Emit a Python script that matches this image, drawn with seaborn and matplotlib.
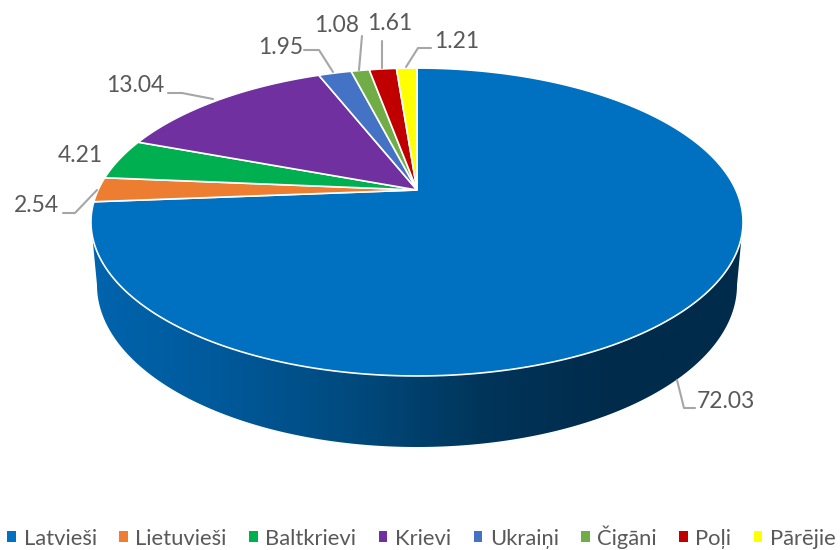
import numpy as np
import matplotlib
matplotlib.use("Agg")
import matplotlib.pyplot as plt
import seaborn as sns
from matplotlib.patches import Polygon, Patch

# data
groups = ['Latvieši', 'Lietuvieši', 'Baltkrievi', 'Krievi', 'Ukraiņi', 'Čigāni', 'Poļi', 'Pārējie']
shares = [72.03, 2.54, 4.21, 13.04, 1.95, 1.08, 1.61, 1.21]
colors = ['#0070c0', '#ed7d31', '#00b050', '#7030a0', '#4472c4', '#70ad47', '#c00000', '#ffff00']

# label layout: text centre, then leader line points from text to slice
label_pos = [(726, 401), (36, 206), (80, 156), (135, 86), (281, 48), (337, 25), (390, 24), (457, 42)]
leaders = [
    [(695, 408), (684, 408), (677, 380)],
    [(63, 213), (75, 213), (97, 190)],
    None,
    [(168, 93), (182, 93), (213, 99)],
    [(304, 50), (319, 50), (333, 72)],
    [(362, 36), (359, 70)],
    [(382, 41), (382, 68)],
    [(431, 48), (418, 48), (406, 67)],
]

sns.set_theme(style="white")
plt.rcParams['font.family'] = ['Lato', 'DejaVu Sans']

# perspective of the pie top, apex sits above the middle of the ellipse
apex_x, apex_y = 417, 190
persp = 0.208
rx, ry = 318.9, 147.3


def top_face(angle):
    # angle is clockwise from 12 o'clock, in radians
    w = 1 + persp * np.cos(angle)
    return apex_x + rx * np.sin(angle) / w, apex_y - ry * np.cos(angle) / w


fig = plt.figure(figsize=(8.4, 5.5), dpi=100)
ax = fig.add_axes([0, 0, 1, 1])
ax.set_xlim(0, 840)
ax.set_ylim(550, 0)
ax.axis('off')

# side wall, lower part of the top ellipse down to a slightly narrower one
t = np.linspace(0, np.pi, 200)
upper = np.column_stack([417 + 326 * np.cos(t), 222 + 154 * np.sin(t)])
lower = np.column_stack([417 + 320 * np.cos(t), 285 + 162 * np.sin(t)])
wall = Polygon(np.vstack([upper, lower[::-1]]), closed=True, fc='none', ec='none')
ax.add_patch(wall)
wall_cmap = sns.blend_palette(['#0064ad', '#00599a', '#004a7e', '#00355a', '#002b4b', '#002b4b'], as_cmap=True)
img = ax.imshow(np.linspace(0, 1, 256).reshape(1, -1), cmap=wall_cmap, extent=(91, 743, 450, 215),
                aspect='auto', zorder=1)
img.set_clip_path(wall)

# top face slices, clockwise from 12 o'clock
fractions = np.array(shares) / np.sum(shares)
edges = np.concatenate([[0], np.cumsum(fractions)]) * 2 * np.pi
for i in range(len(shares)):
    a = np.linspace(edges[i], edges[i + 1], 200)
    x, y = top_face(a)
    ax.fill(np.r_[apex_x, x], np.r_[apex_y, y], color=colors[i], ec='white', lw=1.2, zorder=2)

for i in range(len(shares)):
    ax.text(label_pos[i][0], label_pos[i][1], f'{shares[i]:.2f}', fontsize=16.5, color='#595959',
            ha='center', va='center', zorder=4)
    if leaders[i] is not None:
        px, py = zip(*leaders[i])
        ax.plot(px, py, color='#a6a6a6', lw=1.5, zorder=3)

handles = [Patch(fc=c, ec='none') for c in colors]
ax.legend(handles, groups, ncol=8, loc='center', bbox_to_anchor=(0.502, (550 - 537) / 550),
          frameon=False, fontsize=15.8, labelcolor='#595959', handlelength=0.38, handleheight=0.38,
          handletextpad=0.35, columnspacing=1.03, borderaxespad=0, borderpad=0)

fig.savefig("out.png", dpi=100)
